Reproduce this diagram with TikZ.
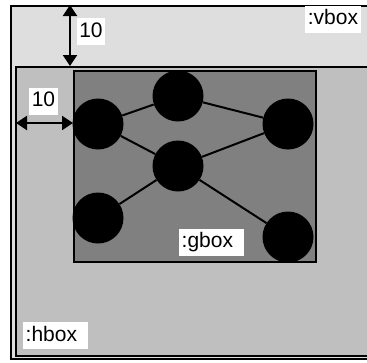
\documentclass[tikz,border=0pt]{standalone}
\usepackage{fontspec}
\setmainfont{Liberation Sans}
\usetikzlibrary{arrows.meta}
\tikzset{>={Triangle[length=11pt, width=14pt]}, font=\fontsize{21}{25}\selectfont}
\tikzset{vertex/.style={shape=circle, fill=black, inner sep=0pt, minimum size=51pt}}
\tikzset{tag/.style={fill=white, inner xsep=2.5pt, inner ysep=3pt, text height=16pt, text depth=5pt}}
\tikzset{boxname/.style={tag, anchor=west, text width=60pt, align=left}}
\tikzset{frame/.style={draw, line width=2pt}}

\begin{document}
\begin{tikzpicture}[x=1pt, y=-1pt]
  \useasboundingbox (0,0) rectangle (367,362);
  \clip (0,0) rectangle (367,362);
  % nested boxes
  \path[frame, fill=black!13] (11,6) rectangle (390,358.5);
  \path[frame, fill=black!25] (16,67) rectangle (385,355.5);
  \path[frame, fill=black!50] (73.5,71) rectangle (316,262);
  % graph inside the gbox
  \node[vertex] (a) at (98,124) {};
  \node[vertex] (b) at (178,96) {};
  \node[vertex] (c) at (288,124) {};
  \node[vertex] (d) at (178,166) {};
  \node[vertex] (e) at (98,218) {};
  \node[vertex] (f) at (288,237) {};
  \path[line width=2pt] (a) edge (b) (a) edge (d) (b) edge (c)
    (d) edge (c) (d) edge (e) (d) edge (f);
  % spacing marks
  \coordinate (vtop) at (70,5);
  \coordinate (htop) at (70,66);
  \coordinate (hleft) at (16,123);
  \coordinate (gleft) at (73,123);
  \draw[<->, line width=2pt] (vtop) -- (htop);
  \draw[<->, line width=2pt] (hleft) -- (gleft);
  \node[tag] (vgap) at (91,31.5) {10};
  \node[tag] (hgap) at (43.5,101) {10};
  % box labels
  \node[tag] (vname) at (333,19) {:vbox};
  \node[boxname] (gname) at (179,242) {:gbox};
  \node[boxname] (hname) at (23,335.5) {:hbox};
\end{tikzpicture}
\end{document}
